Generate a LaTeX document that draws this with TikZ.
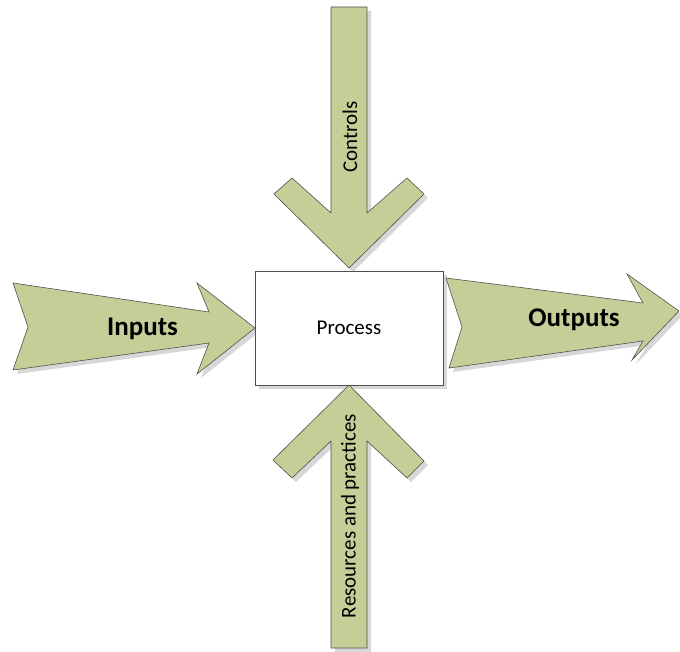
\documentclass[tikz,border=0pt]{standalone}
\usepackage{fontspec}
\setmainfont{Carlito}
\definecolor{arrowfill}{RGB}{196,207,152}
\definecolor{edgegray}{RGB}{80,80,80}
\definecolor{shadowgray}{RGB}{215,215,215}
\begin{document}
\begin{tikzpicture}[x=1pt,y=-1pt,
  flowarrow/.style={fill=arrowfill,draw=edgegray,line width=0.6pt,line join=miter},
  dropshadow/.style={fill=shadowgray,draw=none},
  plainlabel/.style={font=\fontsize{21}{25}\selectfont,inner sep=0pt},
  boldlabel/.style={font=\fontsize{27}{32}\selectfont\bfseries,inner sep=0pt}]
\useasboundingbox (0,0) rectangle (680,652);

% drop shadows
\begin{scope}[shift={(4,4)}]
  \fill[dropshadow] (13,283) -- (209,312) -- (197,283) -- (255,328) -- (197,374)
    -- (209,343) -- (13,370) -- (28,327) -- cycle;
  \fill[dropshadow] (446,278) -- (643,303) -- (627,274) -- (679,311) -- (632,360)
    -- (643,341) -- (449,368) -- (462,327) -- cycle;
  \fill[dropshadow] (331,7) -- (367,7) -- (367,213) -- (407,178) -- (424,194)
    -- (349,268) -- (274,194) -- (292,178) -- (331,213) -- cycle;
  \fill[dropshadow] (331,648) -- (367,648) -- (367,441) -- (407,478) -- (424,461)
    -- (349,385) -- (273,460) -- (292,478) -- (331,441) -- cycle;
  \fill[dropshadow] (255,271) rectangle (443,385);
\end{scope}

% the process box
\node[draw=edgegray,fill=white,line width=0.6pt,minimum width=188pt,minimum height=114pt,
  inner sep=0pt,anchor=north west] (process) at (255,271) {};
\node[plainlabel] (processlabel) at (349,328) {Process};

% inputs arrow
\draw[flowarrow] (13,283) -- (209,312) -- (197,283) -- (255,328) -- (197,374)
  -- (209,343) -- (13,370) -- (28,327) -- cycle;
\node[boldlabel] (inputs) at (142.5,329) {Inputs};

% outputs arrow
\draw[flowarrow] (446,278) -- (643,303) -- (627,274) -- (679,311) -- (632,360)
  -- (643,341) -- (449,368) -- (462,327) -- cycle;
\node[boldlabel] (outputs) at (574,320) {Outputs};

% controls arrow
\draw[flowarrow] (331,7) -- (367,7) -- (367,213) -- (407,178) -- (424,194)
  -- (349,268) -- (274,194) -- (292,178) -- (331,213) -- cycle;
\node[plainlabel,rotate=90] (controls) at (350,137) {Controls};

% resources arrow
\draw[flowarrow] (331,648) -- (367,648) -- (367,441) -- (407,478) -- (424,461)
  -- (349,385) -- (273,460) -- (292,478) -- (331,441) -- cycle;
\node[plainlabel,rotate=90] (resources) at (350,516) {Resources and practices};
\end{tikzpicture}
\end{document}
